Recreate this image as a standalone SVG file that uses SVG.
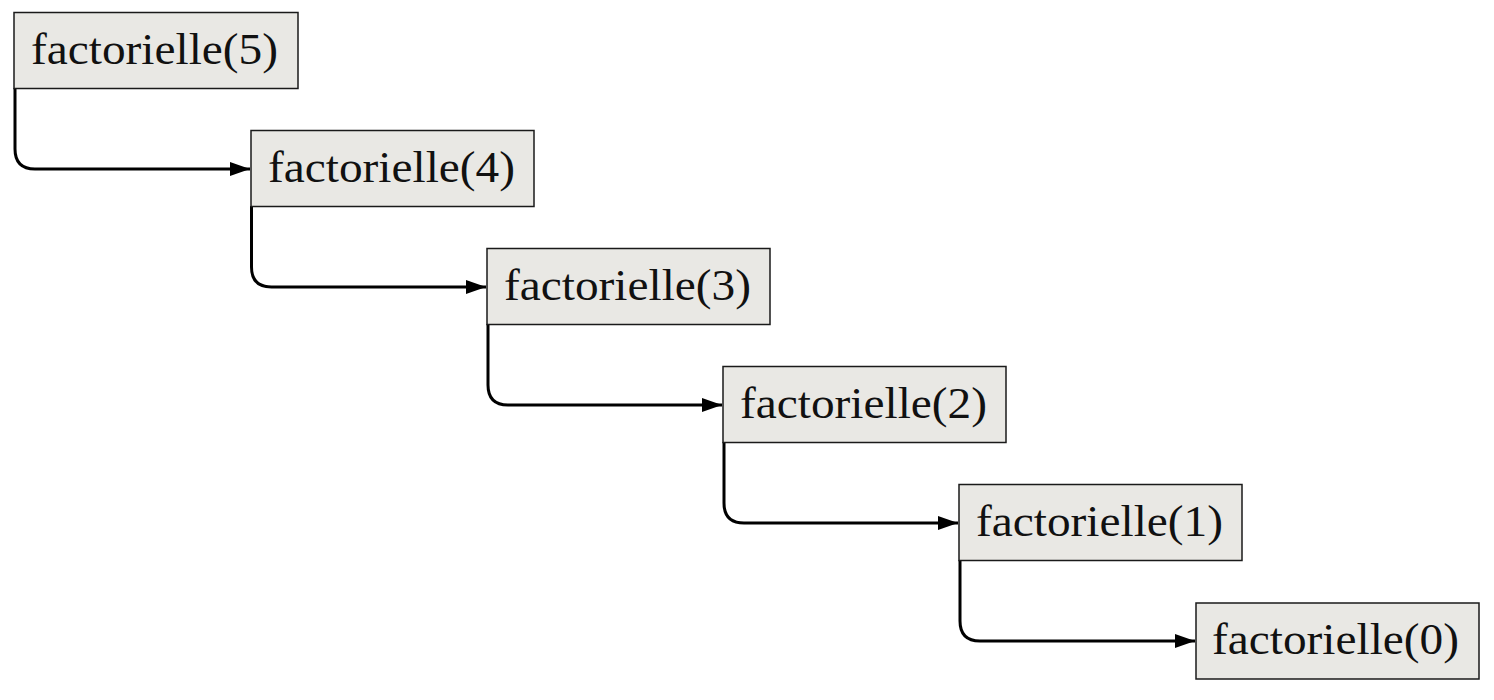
<svg xmlns="http://www.w3.org/2000/svg" width="1494" height="700" viewBox="0 0 1494 700">
<style>
.box{fill:#e9e8e4;stroke:#1a1a1a;stroke-width:1.5}
.lbl{font-family:"Liberation Serif","DejaVu Serif",serif;font-size:45px;fill:#111}
.edge{fill:none;stroke:#000;stroke-width:3}
</style>
<defs>
<marker id="arr" viewBox="0 0 20 14" refX="20" refY="7" markerWidth="20" markerHeight="14" markerUnits="userSpaceOnUse" orient="auto">
<path d="M0,0 L20,7 L0,14 Z" fill="#000"/>
</marker>
</defs>
<rect width="1494" height="700" fill="#fff"/>
<g id="connectors">
<path class="edge" marker-end="url(#arr)" d="M15,88 V149 Q15,169 35,169 H250"/>
<path class="edge" marker-end="url(#arr)" d="M251.5,206 V267 Q251.5,287 271.5,287 H486"/>
<path class="edge" marker-end="url(#arr)" d="M488,324 V385 Q488,405 508,405 H722"/>
<path class="edge" marker-end="url(#arr)" d="M724,442 V503 Q724,523 744,523 H958"/>
<path class="edge" marker-end="url(#arr)" d="M960,560 V621 Q960,641 980,641 H1195"/>
</g>
<g id="n5"><rect class="box" x="14" y="12.5" width="284" height="76"/><text class="lbl" x="31" y="64" textLength="247" lengthAdjust="spacingAndGlyphs">factorielle(5)</text></g>
<g id="n4"><rect class="box" x="251" y="130.5" width="283" height="76"/><text class="lbl" x="268" y="182" textLength="247" lengthAdjust="spacingAndGlyphs">factorielle(4)</text></g>
<g id="n3"><rect class="box" x="487" y="248.5" width="283" height="76"/><text class="lbl" x="504" y="300" textLength="247" lengthAdjust="spacingAndGlyphs">factorielle(3)</text></g>
<g id="n2"><rect class="box" x="723" y="366.5" width="283" height="76"/><text class="lbl" x="740" y="418" textLength="247" lengthAdjust="spacingAndGlyphs">factorielle(2)</text></g>
<g id="n1"><rect class="box" x="959" y="484.5" width="283" height="76"/><text class="lbl" x="976" y="536" textLength="247" lengthAdjust="spacingAndGlyphs">factorielle(1)</text></g>
<g id="n0"><rect class="box" x="1196" y="603" width="283" height="76"/><text class="lbl" x="1212" y="654" textLength="247" lengthAdjust="spacingAndGlyphs">factorielle(0)</text></g>
</svg>
